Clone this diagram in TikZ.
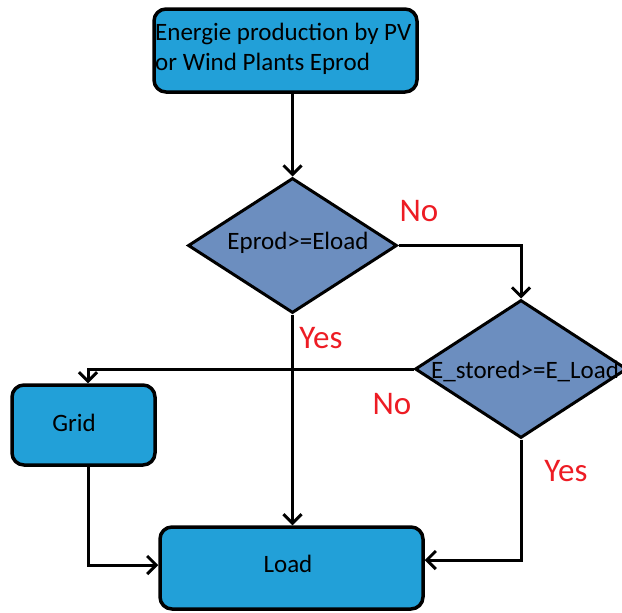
\documentclass[tikz,border=0pt]{standalone}
\usepackage{fontspec}
\setmainfont{Carlito}
\usetikzlibrary{shapes.geometric,arrows.meta}
\definecolor{boxblue}{HTML}{22A0D8}
\definecolor{diablue}{HTML}{6C8EBF}
\definecolor{lblred}{HTML}{ED1C24}
\begin{document}
\begin{tikzpicture}[x=1pt,y=-1pt,
  every node/.style={font=\fontsize{25}{30}\selectfont},
  box/.style={draw=black,line width=3.5pt,fill=boxblue,rounded corners=12pt,rectangle,inner sep=0pt},
  decision/.style={draw=black,line width=3pt,fill=diablue,diamond,inner sep=0pt},
  conn/.style={line width=3pt,-{Straight Barb[length=9pt,width=18pt,line width=3pt]}},
  lbl/.style={text=lblred,font=\fontsize{33}{36}\selectfont,inner sep=0pt}]
\useasboundingbox (0,0) rectangle (622,613);
\node[box,minimum width=263pt,minimum height=83pt] (top) at (285.5,50.5) {};
\node[anchor=west,align=left,inner sep=0pt] (tt) at (155,49) {Energie production by PV\\or Wind Plants Eprod};
\node[decision,minimum width=209pt,minimum height=135pt,aspect=1.55] (d1) at (292.5,245.5) {};
\node (t1) at (298,243) {Eprod>=Eload};
\node[decision,minimum width=212pt,minimum height=138pt,aspect=1.55] (d2) at (521,369) {};
\node[anchor=west,inner sep=0pt] (t2) at (431,371) {E\_stored>=E\_Load};
\node[box,minimum width=143pt,minimum height=80pt] (grid) at (83.5,425) {};
\node (tg) at (74,423) {Grid};
\node[box,minimum width=263pt,minimum height=82pt] (load) at (291.5,568) {};
\node (tl) at (288,564) {Load};
\node[lbl] (no1) at (419,211) {No};
\node[lbl] (yes1) at (321,338) {Yes};
\node[lbl] (no2) at (392,404) {No};
\node[lbl] (yes2) at (566,471) {Yes};
\draw[conn] (top.south -| d1.north) -- (d1.north);
\draw[conn] (d1.east) -| (d2.north);
\draw[conn] (d2.west) -| ([xshift=4.5pt]grid.north);
\draw[conn] (d1.south) -- (load.north -| d1.south);
\draw[conn] ([xshift=4.5pt]grid.south) |- ([yshift=3pt]load.west);
\draw[conn] (d2.south) |- ([yshift=8pt]load.east);
\end{tikzpicture}
\end{document}
